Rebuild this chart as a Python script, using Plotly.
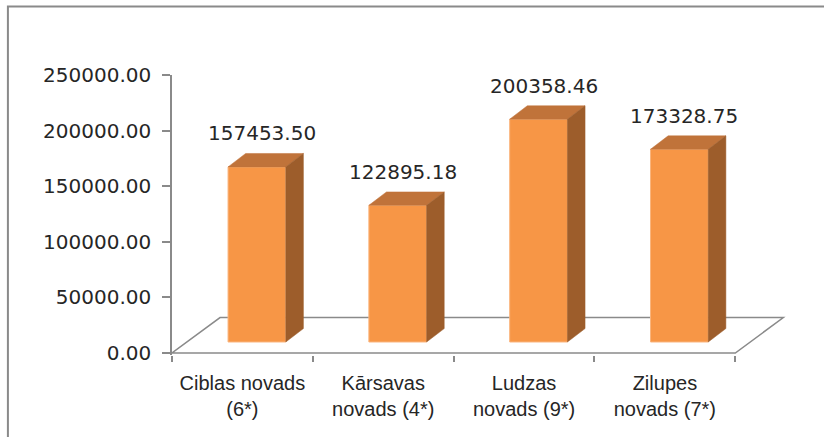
import plotly.graph_objects as go

# ---------------- data ----------------
categories = ["Ciblas novads<br>(6*)", "Kārsavas<br>novads (4*)",
              "Ludzas<br>novads (9*)", "Zilupes<br>novads (7*)"]
values = [157453.50, 122895.18, 200358.46, 173328.75]
value_labels = [f"{v:.2f}" for v in values]
y_ticks = [0, 50000, 100000, 150000, 200000, 250000]
y_tick_labels = [f"{v:.2f}" for v in y_ticks]

# ---------------- geometry ----------------
W, H = 824, 437
L, T = 172, 75
CAT_PX = 140.75               # px per category
Y_PX = 55.54 / 50000          # px per value unit
X_MAX = 4.36
Y_MAX = 250000
Y_PAD = 2 / Y_PX
PW = X_MAX * CAT_PX
PH = (Y_MAX + Y_PAD) * Y_PX
R = W - L - PW
B = H - T - PH

FLOOR_DX = 48 / CAT_PX
FLOOR_DY = 35.4 / Y_PX
BAR_W = 0.41
BAR_SHIFT = 0.103
BAR_BASE = 11 / Y_PX
DEPTH_DX = 17.6 / CAT_PX
DEPTH_DY = 13.4 / Y_PX

FRONT = "#F79646"
TOP = "#C0733A"
SIDE = "#9D5D2B"
AXIS = "#8A8A8A"
TXT = "#262626"

n = len(values)
centers = [i + 0.5 + BAR_SHIFT for i in range(n)]

fig = go.Figure()
fig.add_trace(go.Bar(
    x=centers, y=values, base=[BAR_BASE] * n, width=BAR_W,
    marker=dict(color=FRONT, line=dict(color="#FAB47C", width=1)),
    hoverinfo="skip", showlegend=False))

shapes = []
# floor (parallelogram edges)
floor_pts = [(0, 0), (n, 0), (n + FLOOR_DX, FLOOR_DY), (FLOOR_DX, FLOOR_DY)]
path = "M " + " L ".join(f"{x},{y}" for x, y in floor_pts) + " Z"
shapes.append(dict(type="path", xref="x", yref="y", path=path, layer="below",
                   line=dict(color=AXIS, width=1.5), fillcolor="rgba(0,0,0,0)"))

for c, v in zip(centers, values):
    xl, xr = c - BAR_W / 2, c + BAR_W / 2
    yb, yt = BAR_BASE, BAR_BASE + v
    top = [(xl, yt), (xr, yt), (xr + DEPTH_DX, yt + DEPTH_DY), (xl + DEPTH_DX, yt + DEPTH_DY)]
    side = [(xr, yb), (xr + DEPTH_DX, yb + DEPTH_DY), (xr + DEPTH_DX, yt + DEPTH_DY), (xr, yt)]
    for pts, col in ((top, TOP), (side, SIDE)):
        shapes.append(dict(type="path", xref="x", yref="y", layer="above",
                           path="M " + " L ".join(f"{x},{y}" for x, y in pts) + " Z",
                           fillcolor=col, line=dict(color=col, width=0.5)))

# outer chart frame (cropped at right/bottom)
def px_x(p):
    return (p - L) / PW

def px_y(p):
    return (H - B - p) / PH

shapes.append(dict(type="rect", xref="paper", yref="paper",
                   x0=px_x(8), x1=px_x(W + 20), y0=px_y(H + 20), y1=px_y(6.5),
                   line=dict(color=AXIS, width=2), fillcolor="rgba(0,0,0,0)"))

annotations = []
for c, v, t in zip(centers, values, value_labels):
    annotations.append(dict(x=c + 0.035, y=BAR_BASE + v + DEPTH_DY, xref="x", yref="y",
                            text=t, showarrow=False, yanchor="middle", yshift=20,
                            font=dict(family="DejaVu Sans", size=20, color=TXT)))

fig.update_layout(
    width=W, height=H,
    margin=dict(l=L, r=R, t=T, b=B, pad=0),
    plot_bgcolor="white", paper_bgcolor="white",
    shapes=shapes, annotations=annotations,
    xaxis=dict(range=[0, X_MAX], tickvals=[i + 0.5 for i in range(n)], ticktext=categories,
               ticks="", showline=False, showgrid=False, zeroline=False,
               tickfont=dict(family="Liberation Sans", size=20, color=TXT),
               ticklabelstandoff=14,
               minor=dict(tickvals=list(range(n + 1)), ticks="outside", ticklen=6,
                          tickwidth=1.5, tickcolor=AXIS, showgrid=False)),
    yaxis=dict(range=[-Y_PAD, Y_MAX], tickvals=y_ticks, ticktext=y_tick_labels,
               ticks="outside", ticklen=8, tickwidth=1.5, tickcolor=AXIS,
               showline=True, linecolor=AXIS, linewidth=1.5,
               showgrid=False, zeroline=False, ticklabelstandoff=7,
               tickfont=dict(family="DejaVu Sans", size=20, color=TXT)),
)

fig.write_html("out.html", config={"displayModeBar": False},
               post_script="document.body.style.margin='0';")
